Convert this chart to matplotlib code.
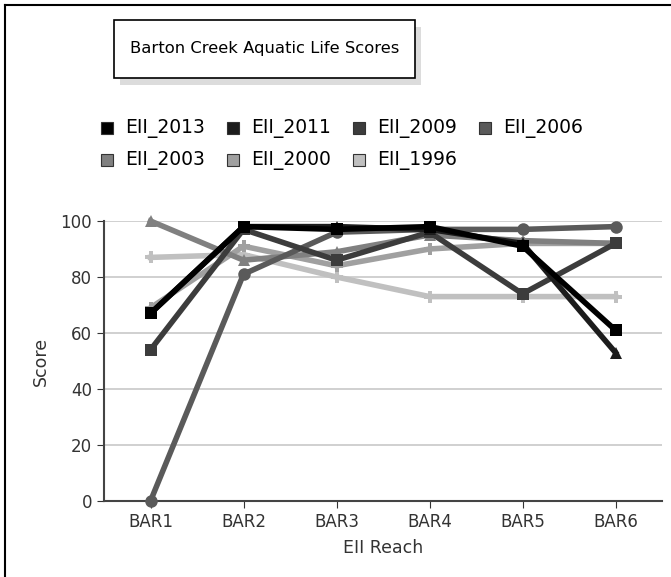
import matplotlib
matplotlib.use("Agg")
import matplotlib.pyplot as plt
from matplotlib.patches import Rectangle
from matplotlib.lines import Line2D

# ── Data ──────────────────────────────────────────────────────────────────────
reaches = ["BAR1", "BAR2", "BAR3", "BAR4", "BAR5", "BAR6"]
series_names = ["EII_2013", "EII_2011", "EII_2009", "EII_2006",
                "EII_2003", "EII_2000", "EII_1996"]
eii_2013 = [67, 98, 97, 98, 91, 61]
eii_2011 = [67, 98, 98, 97, 92, 53]
eii_2009 = [54, 97, 86, 96, 74, 92]
eii_2006 = [0, 81, 96, 97, 97, 98]
eii_2003 = [100, 86, 89, 95, 93, 92]
eii_2000 = [69, 91, 84, 90, 92, 92]
eii_1996 = [87, 88, 80, 73, 73, 73]
series_values = [eii_2013, eii_2011, eii_2009, eii_2006,
                 eii_2003, eii_2000, eii_1996]

colors = ["#000000", "#1c1c1c", "#3c3c3c", "#5a5a5a",
          "#808080", "#a0a0a0", "#c0c0c0"]
markers = ["s", "^", "s", "o", "^", "P", "P"]

W, H = 671, 577
fig = plt.figure(figsize=(W / 100, H / 100), dpi=100)
plt.rcParams["font.family"] = ["DejaVu Sans"]


def px(x0, y0, x1, y1):
    # pixel box (from top-left) -> figure fraction rect
    return [x0 / W, 1 - y1 / H, (x1 - x0) / W, (y1 - y0) / H]


# outer frame (only left/top visible)
fig.add_artist(Line2D([5 / W, 5 / W], [0, 1 - 5 / H], color="black", lw=1.5))
fig.add_artist(Line2D([5 / W, 1], [1 - 5 / H, 1 - 5 / H], color="black", lw=1.5))

# ── Title box with shadow ────────────────────────────────────────────────────
fig.add_artist(Rectangle((120 / W, 1 - 85 / H), 301 / W, 58 / H,
                         transform=fig.transFigure, facecolor="#dcdcdc",
                         edgecolor="none"))
fig.add_artist(Rectangle((114 / W, 1 - 78 / H), 301 / W, 58 / H,
                         transform=fig.transFigure, facecolor="white",
                         edgecolor="black", lw=1.2))
fig.text(264.5 / W, 1 - 49 / H, "Barton Creek Aquatic Life Scores",
         ha="center", va="center", fontsize=11.8)

# ── Legend (manual, two rows) ────────────────────────────────────────────────
for i, name in enumerate(series_names):
    col, row = i % 4, i // 4
    x = 101 + col * 126
    y = 128 + row * 32
    fig.add_artist(Rectangle((x / W, 1 - (y + 6) / H), 12 / W, 12 / H,
                             transform=fig.transFigure, facecolor=colors[i],
                             edgecolor="#333333", lw=0.8))
    fig.text((x + 24) / W, 1 - y / H, name, ha="left", va="center",
             fontsize=13.5)

# ── Plot ─────────────────────────────────────────────────────────────────────
ax = fig.add_axes(px(104, 221, 662, 501))
xs = range(len(reaches))
for i in reversed(range(len(series_names))):
    ax.plot(xs, series_values[i], color=colors[i], lw=4,
            marker=markers[i], markersize=9, markeredgewidth=0,
            clip_on=False, zorder=3 + (len(series_names) - i))

ax.set_xlim(-0.5, len(reaches) - 0.5)
ax.set_ylim(0, 100)
ax.set_yticks(range(0, 101, 20))
ax.set_xticks(list(xs))
ax.set_xticklabels(reaches)
ax.tick_params(labelsize=12, colors="#333333", length=5, direction="out")
ax.grid(axis="y", color="#c8c8c8", lw=1.2)
ax.set_axisbelow(True)
ax.spines["top"].set_visible(False)
ax.spines["right"].set_visible(False)
for s in ("left", "bottom"):
    ax.spines[s].set_color("#444444")
    ax.spines[s].set_linewidth(1.5)
ax.set_ylabel("Score", fontsize=12.5, color="#333333", labelpad=8)
ax.set_xlabel("EII Reach", fontsize=12.5, color="#333333", labelpad=6)

fig.savefig("out.png", dpi=100)
